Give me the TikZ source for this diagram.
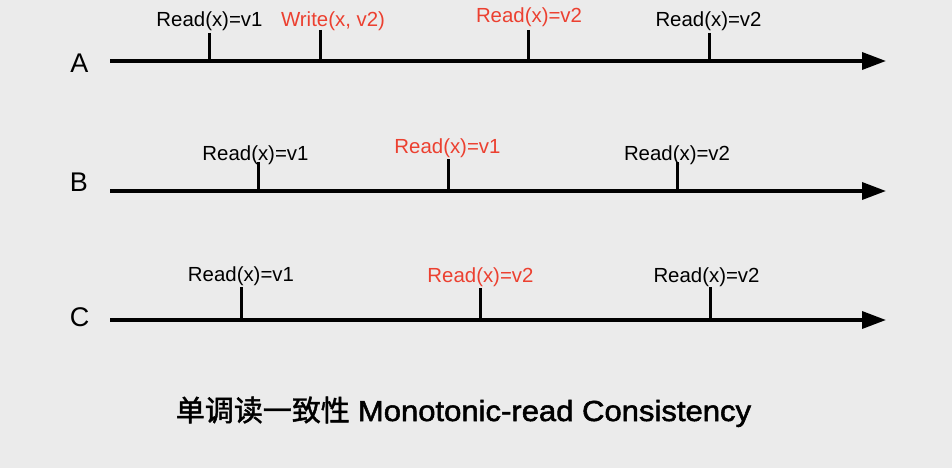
\documentclass[tikz,border=0pt]{standalone}
\usepackage{fontspec}
\setmainfont{Liberation Sans}
\newfontfamily\cjk[FakeBold=1.6]{Noto Sans CJK SC}
\newfontfamily\titlefont[FakeStretch=1.07,FakeBold=1.8]{Liberation Sans}
\usetikzlibrary{arrows.meta}
\definecolor{bg}{RGB}{235,235,235}
\definecolor{hl}{RGB}{236,64,48}
\tikzset{
  axisline/.style={line width=3.5pt, -{Triangle[length=24pt,width=17pt]}},
  tickline/.style={line width=3pt},
  lbl/.style={anchor=base, inner sep=0pt, font=\fontsize{20.4}{24}\selectfont},
  redlbl/.style={lbl, text=hl},
  procname/.style={anchor=base, inner sep=0pt, font=\fontsize{27}{30}\selectfont},
  titletext/.style={anchor=base, inner sep=0pt, font=\fontsize{29}{34}\selectfont}
}
\begin{document}
\begin{tikzpicture}[x=1pt,y=-1pt]
\fill[bg] (0,0) rectangle (952,468);
\useasboundingbox (0,0) rectangle (952,468);

% process names
\node[procname] (A) at (79.5,72.5) {A};
\node[procname] (B) at (79,191) {B};
\node[procname] (C) at (79.5,326.5) {C};

% axes
\coordinate (As) at (110,61);  \coordinate (Ae) at (886,61);
\coordinate (Bs) at (110,191); \coordinate (Be) at (886,191);
\coordinate (Cs) at (110,320); \coordinate (Ce) at (886,320);
\draw[axisline] (As) -- (Ae);
\draw[axisline] (Bs) -- (Be);
\draw[axisline] (Cs) -- (Ce);

% ticks A
\coordinate (a1t) at (209,33); \coordinate (a1) at (209,61);
\coordinate (a2t) at (320,30); \coordinate (a2) at (320,61);
\coordinate (a3t) at (528,30); \coordinate (a3) at (528,61);
\coordinate (a4t) at (709,33); \coordinate (a4) at (709,61);
\foreach \t in {a1,a2,a3,a4} \draw[tickline] (\t t) -- (\t);

% ticks B
\coordinate (b1t) at (258,162); \coordinate (b1) at (258,191);
\coordinate (b2t) at (448,159); \coordinate (b2) at (448,191);
\coordinate (b3t) at (677,162); \coordinate (b3) at (677,191);
\foreach \t in {b1,b2,b3} \draw[tickline] (\t t) -- (\t);

% ticks C
\coordinate (c1t) at (241,287); \coordinate (c1) at (241,320);
\coordinate (c2t) at (480,288); \coordinate (c2) at (480,320);
\coordinate (c3t) at (710,287); \coordinate (c3) at (710,320);
\foreach \t in {c1,c2,c3} \draw[tickline] (\t t) -- (\t);

% labels A
\node[lbl] (la1) at (209.5,27) {Read(x)=v1};
\node[redlbl] (la2) at (333,27) {Write(x, v2)};
\node[redlbl] (la3) at (529,22.7) {Read(x)=v2};
\node[lbl] (la4) at (708.5,27) {Read(x)=v2};

% labels B
\node[lbl] (lb1) at (255.5,160) {Read(x)=v1};
\node[redlbl] (lb2) at (447.5,153) {Read(x)=v1};
\node[lbl] (lb3) at (677,160.5) {Read(x)=v2};

% labels C
\node[lbl] (lc1) at (241,281) {Read(x)=v1};
\node[redlbl] (lc2) at (480.5,282) {Read(x)=v2};
\node[lbl] (lc3) at (706.5,282) {Read(x)=v2};

% title
\node[titletext] (title) at (463.5,421) {{\cjk 单调读一致性} \titlefont Monotonic-read Consistency};
\end{tikzpicture}
\end{document}
